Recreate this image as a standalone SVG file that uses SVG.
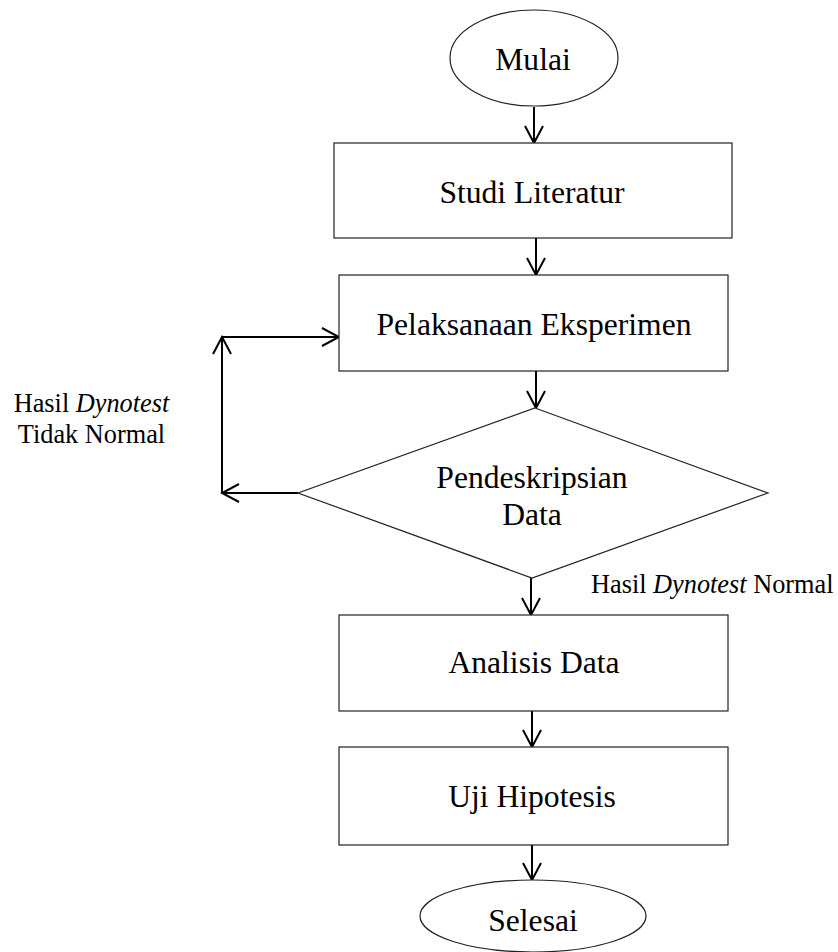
<svg xmlns="http://www.w3.org/2000/svg" width="838" height="952" viewBox="0 0 838 952">
<style>
.shape{fill:#fff;stroke:#222;stroke-width:1.2}
.t{font-family:"Liberation Serif","Times New Roman",serif;font-size:31.6px;fill:#000;text-anchor:middle}
.lbl{font-family:"Liberation Serif","Times New Roman",serif;font-size:26.3px;fill:#000}
.c{fill:none;stroke:#000;stroke-width:2}
</style>
<defs>
<marker id="ah" viewBox="0 0 20 20" refX="18" refY="10" markerWidth="20" markerHeight="20" markerUnits="userSpaceOnUse" orient="auto">
<path d="M1,1 L18,10 L1,19" fill="none" stroke="#000" stroke-width="2"/>
</marker>
</defs>
<rect width="838" height="952" fill="#fff"/>
<g id="connectors">
<line class="c" x1="534" y1="107" x2="534" y2="143" marker-end="url(#ah)"/>
<line class="c" x1="536" y1="238" x2="536" y2="275" marker-end="url(#ah)"/>
<line class="c" x1="536" y1="371" x2="536" y2="408" marker-end="url(#ah)"/>
<line class="c" x1="531" y1="578" x2="531" y2="615" marker-end="url(#ah)"/>
<line class="c" x1="532" y1="711" x2="532" y2="747" marker-end="url(#ah)"/>
<line class="c" x1="532" y1="845" x2="532" y2="880" marker-end="url(#ah)"/>
<line class="c" x1="298" y1="493" x2="222" y2="493" marker-end="url(#ah)"/>
<line class="c" x1="222" y1="493" x2="222" y2="337" marker-end="url(#ah)"/>
<line class="c" x1="222" y1="337" x2="339" y2="337" marker-end="url(#ah)"/>
</g>
<g id="mulai">
<ellipse class="shape" cx="534" cy="58" rx="84" ry="48"/>
<text class="t" x="533" y="70">Mulai</text>
</g>
<g id="studi">
<rect class="shape" x="334" y="143" width="398" height="95"/>
<text class="t" x="532" y="203">Studi Literatur</text>
</g>
<g id="pelaksanaan">
<rect class="shape" x="339" y="275" width="389" height="96"/>
<text class="t" x="534" y="335">Pelaksanaan Eksperimen</text>
</g>
<g id="pendeskripsian">
<polygon class="shape" points="535,408 768,493 532,578 298,493"/>
<text class="t" x="532" y="488">Pendeskripsian</text>
<text class="t" x="532" y="525">Data</text>
</g>
<g id="analisis">
<rect class="shape" x="339" y="615" width="389" height="96"/>
<text class="t" x="534" y="673">Analisis Data</text>
</g>
<g id="uji">
<rect class="shape" x="339" y="747" width="389" height="98"/>
<text class="t" x="532" y="807">Uji Hipotesis</text>
</g>
<g id="selesai">
<ellipse class="shape" cx="533" cy="916" rx="113" ry="36"/>
<text class="t" x="533" y="931">Selesai</text>
</g>
<g id="labels">
<text class="lbl" x="91.5" y="412" text-anchor="middle">Hasil <tspan font-style="italic">Dynotest</tspan></text>
<text class="lbl" x="91.5" y="443" text-anchor="middle">Tidak Normal</text>
<text class="lbl" x="591" y="593">Hasil <tspan font-style="italic">Dynotest</tspan> Normal</text>
</g>
</svg>
